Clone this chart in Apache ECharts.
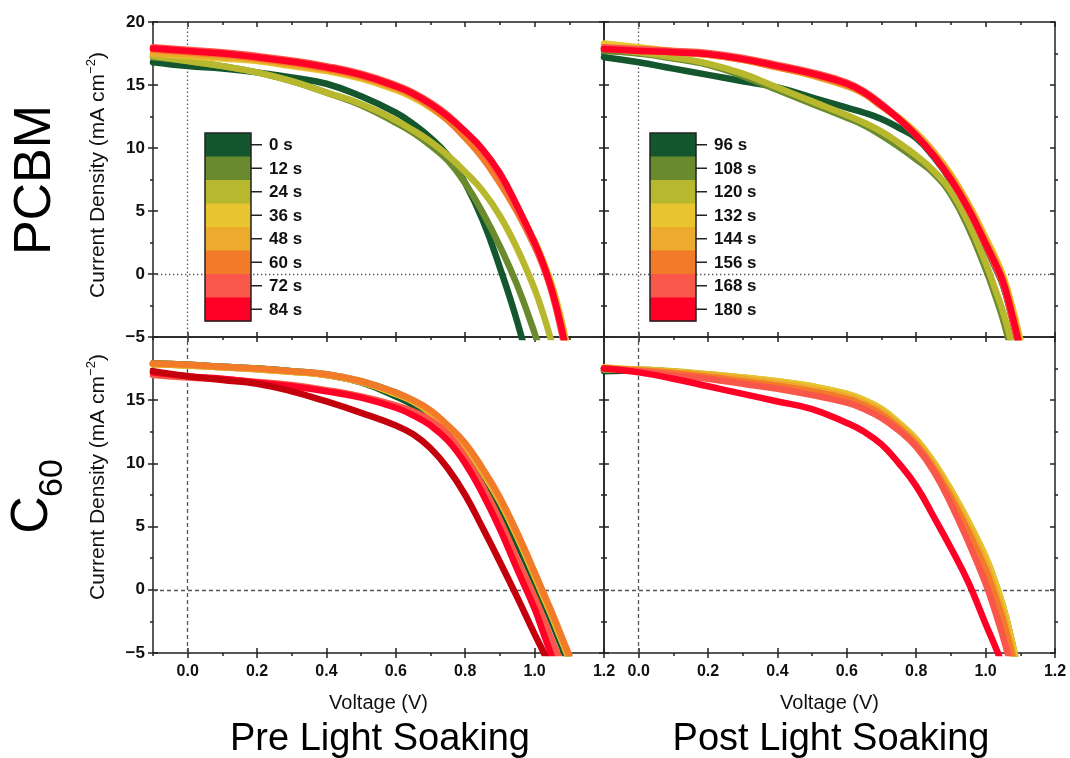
<!DOCTYPE html>
<html>
<head>
<meta charset="utf-8">
<script src="https://cdn.jsdelivr.net/npm/echarts@6/dist/echarts.min.js"></script>
<style>
  html, body { margin: 0; padding: 0; background: #fff; }
  #chart { width: 1070px; height: 758px; }
</style>
</head>
<body>
<div id="chart"></div>
<script>
// J–V sweeps of the PCBM and C60 devices, before and after light soaking.
const voltage = [-0.1, 0, 0.1, 0.2, 0.3, 0.4, 0.5, 0.6, 0.65, 0.7, 0.75, 0.8, 0.85, 0.9, 0.95, 1.0, 1.025, 1.05, 1.075, 1.1];

const preTimes = ['0 s', '12 s', '24 s', '36 s', '48 s', '60 s', '72 s', '84 s'];
const postTimes = ['96 s', '108 s', '120 s', '132 s', '144 s', '156 s', '168 s', '180 s'];
const timeColors = ['#14562e', '#6a8a2e', '#b7b82e', '#e8c52e', '#ecab2d', '#f27b2a', '#fa574b', '#ff0026'];
const extraTraceColor = '#c4000c';

const xMajorTicks = [0, 0.2, 0.4, 0.6, 0.8, 1.0, 1.2];
const xMinorTicks = [-0.1, 0.1, 0.3, 0.5, 0.7, 0.9, 1.1];
const yMinorTicks = [-2.5, 2.5, 7.5, 12.5, 17.5];

// current density (mA cm^-2), one row per sweep, sampled at `voltage`
const pcbmPreCurrent = [
  [16.8, 16.5, 16.3, 16.0, 15.6, 15.1, 14.1, 12.8, 11.9, 10.8, 9.4, 7.2, 4.3, 0.5, -3.8, -9.0, -12.0, -14.5, -17.0, -20.0],
  [17.2, 16.9, 16.5, 16.0, 15.3, 14.4, 13.4, 12.0, 11.2, 10.2, 9.0, 7.2, 4.9, 2.2, -0.9, -4.7, -7.0, -9.0, -11.5, -14.0],
  [17.3, 16.9, 16.5, 16.0, 15.3, 14.4, 13.5, 12.2, 11.4, 10.5, 9.4, 8.1, 6.6, 4.6, 2.0, -1.2, -3.2, -5.5, -8.0, -11.0],
  [17.5, 17.3, 17.1, 16.9, 16.5, 16.1, 15.5, 14.6, 14.0, 13.2, 12.2, 11.0, 9.5, 7.6, 5.2, 2.6, 1.0, -0.9, -3.4, -6.6],
  [17.5, 17.4, 17.2, 17.0, 16.6, 16.2, 15.6, 14.7, 14.1, 13.3, 12.3, 11.0, 9.5, 7.6, 5.2, 2.5, 0.9, -1.0, -3.6, -6.9],
  [17.8, 17.6, 17.4, 17.1, 16.75, 16.3, 15.7, 14.8, 14.2, 13.3, 12.2, 10.8, 9.2, 7.2, 4.9, 2.2, 0.6, -1.3, -3.9, -7.2],
  [18.0, 17.8, 17.6, 17.3, 16.95, 16.5, 15.9, 15.0, 14.4, 13.6, 12.6, 11.3, 9.8, 7.8, 5.2, 2.3, 0.6, -1.5, -4.3, -7.8],
  [17.9, 17.7, 17.5, 17.2, 16.85, 16.4, 15.8, 14.9, 14.3, 13.5, 12.5, 11.3, 9.9, 8.0, 5.4, 2.5, 0.8, -1.3, -4.0, -7.4]
];

const pcbmPostCurrent = [
  [17.2, 16.8, 16.3, 15.8, 15.3, 14.8, 14.0, 13.2, 12.8, 12.3, 11.6, 10.8, 9.3, 7.4, 5.0, 2.2, 0.7, -0.9, -3.4, -6.3],
  [17.7, 17.5, 17.1, 16.6, 15.7, 14.6, 13.5, 12.4, 11.8, 11.0, 10.1, 9.1, 8.0, 6.3, 3.7, 0.4, -1.5, -3.6, -6.2, -9.0],
  [17.9, 17.6, 17.2, 16.7, 15.9, 14.8, 13.7, 12.6, 12.0, 11.3, 10.4, 9.4, 8.2, 6.6, 4.1, 0.9, -1.0, -3.0, -5.5, -8.3],
  [18.3, 18.0, 17.7, 17.45, 17.05, 16.5, 15.85, 15.0, 14.4, 13.4, 12.4, 11.2, 9.7, 7.9, 5.6, 2.9, 1.5, -0.1, -2.4, -5.2],
  [17.9, 17.75, 17.6, 17.4, 17.0, 16.4, 15.75, 14.9, 14.3, 13.4, 12.4, 11.2, 9.7, 7.8, 5.5, 2.7, 1.3, -0.3, -2.7, -5.5],
  [17.9, 17.75, 17.6, 17.4, 17.0, 16.4, 15.8, 15.0, 14.3, 13.3, 12.3, 11.0, 9.5, 7.6, 5.3, 2.5, 1.1, -0.5, -3.0, -5.8],
  [18.0, 17.85, 17.7, 17.55, 17.15, 16.6, 16.0, 15.2, 14.5, 13.5, 12.3, 11.0, 9.4, 7.5, 5.1, 2.3, 0.8, -0.8, -3.4, -6.3],
  [17.85, 17.7, 17.6, 17.45, 17.05, 16.5, 15.9, 15.1, 14.4, 13.4, 12.3, 11.0, 9.4, 7.5, 5.2, 2.4, 1.0, -0.6, -3.1, -6.0]
];

const c60PreCurrent = [
  [17.9, 17.8, 17.65, 17.5, 17.3, 17.0, 16.4, 15.3, 14.6, 13.6, 12.3, 10.6, 8.6, 6.3, 3.6, 0.6, -1.0, -2.6, -4.3, -6.0],
  [17.9, 17.8, 17.65, 17.5, 17.3, 17.05, 16.5, 15.6, 14.9, 14.1, 12.9, 11.4, 9.4, 7.1, 4.3, 1.2, -0.4, -2.0, -3.7, -5.4],
  [17.85, 17.75, 17.6, 17.45, 17.25, 17.0, 16.45, 15.5, 14.9, 14.0, 12.8, 11.3, 9.3, 7.0, 4.2, 1.1, -0.5, -2.1, -3.8, -5.5],
  [17.85, 17.75, 17.6, 17.45, 17.25, 17.0, 16.45, 15.5, 14.9, 14.0, 12.8, 11.3, 9.3, 7.0, 4.2, 1.1, -0.5, -2.1, -3.8, -5.5],
  [17.85, 17.75, 17.6, 17.45, 17.25, 17.0, 16.45, 15.55, 14.9, 14.05, 12.85, 11.35, 9.35, 7.05, 4.25, 1.15, -0.45, -2.05, -3.75, -5.45],
  [17.9, 17.8, 17.65, 17.5, 17.3, 17.05, 16.5, 15.6, 15.0, 14.2, 13.0, 11.6, 9.6, 7.3, 4.5, 1.4, -0.2, -1.8, -3.5, -5.2],
  [17.0, 16.8, 16.65, 16.45, 16.2, 15.8, 15.3, 14.6, 14.1, 13.4, 12.3, 10.5, 8.2, 5.5, 2.4, -0.6, -2.3, -4.0, -5.7, -7.5],
  [17.2, 16.9, 16.7, 16.4, 16.1, 15.7, 15.2, 14.4, 13.8, 13.0, 11.8, 10.0, 7.6, 4.8, 1.6, -1.5, -3.4, -5.3, -7.1, -9.0],
  [17.3, 16.9, 16.6, 16.3, 15.7, 14.9, 14.0, 13.0, 12.3, 11.2, 9.6, 7.5, 4.9, 2.2, -0.6, -3.5, -4.9, -6.4, -7.8, -9.3]
];

const c60PostCurrent = [
  [17.3, 17.35, 17.2, 16.95, 16.7, 16.4, 16.0, 15.4, 14.9, 14.2, 13.1, 11.8, 10.0, 7.8, 5.3, 2.5, 0.7, -1.4, -4.1, -7.3],
  [17.4, 17.4, 17.25, 17.0, 16.75, 16.45, 16.05, 15.45, 14.95, 14.25, 13.15, 11.85, 10.05, 7.85, 5.35, 2.55, 0.75, -1.35, -4.05, -7.25],
  [17.45, 17.4, 17.3, 17.05, 16.8, 16.5, 16.1, 15.5, 15.0, 14.3, 13.2, 11.9, 10.1, 7.9, 5.4, 2.6, 0.8, -1.3, -4.0, -7.2],
  [17.6, 17.4, 17.25, 17.05, 16.8, 16.5, 16.1, 15.5, 15.0, 14.3, 13.2, 11.9, 10.1, 7.9, 5.4, 2.6, 0.8, -1.3, -4.0, -7.2],
  [17.5, 17.4, 17.2, 17.0, 16.7, 16.35, 15.9, 15.3, 14.8, 14.1, 13.0, 11.7, 9.9, 7.6, 5.0, 2.1, 0.2, -1.9, -4.6, -7.6],
  [17.5, 17.35, 17.15, 16.85, 16.5, 16.15, 15.7, 15.1, 14.6, 13.9, 12.8, 11.5, 9.6, 7.3, 4.6, 1.6, -0.3, -2.4, -5.0, -7.8],
  [17.5, 17.3, 17.0, 16.7, 16.3, 15.9, 15.4, 14.8, 14.3, 13.6, 12.6, 11.3, 9.4, 6.8, 3.8, 0.5, -1.5, -3.7, -6.2, -8.8],
  [17.5, 17.2, 16.7, 16.1, 15.5, 14.9, 14.3, 13.2, 12.5, 11.5, 10.0, 8.2, 5.8, 3.3, 0.6, -2.7, -4.3, -6.0, -7.7, -9.5]
];

const FONT = '"Liberation Sans", Arial, Helvetica, sans-serif';
const INK = '#222';

const panels = [
  { box: { left: 153, top: 22, width: 451, height: 315 }, rows: pcbmPreCurrent, names: preTimes, colors: timeColors, guide: [1.4, 2.6], xLabels: false, yLabels: true, top20: true },
  { box: { left: 604, top: 22, width: 451, height: 315 }, rows: pcbmPostCurrent, names: postTimes, colors: timeColors, guide: [1.4, 2.6], xLabels: false, yLabels: false, top20: true },
  { box: { left: 153, top: 337, width: 451, height: 316 }, rows: c60PreCurrent, names: preTimes.concat(['extra']), colors: timeColors.concat([extraTraceColor]), guide: [4, 3], xLabels: true, yLabels: true, top20: false },
  { box: { left: 604, top: 337, width: 451, height: 316 }, rows: c60PostCurrent, names: postTimes, colors: timeColors, guide: [4, 3], xLabels: true, yLabels: false, top20: false }
];

const grids = [], xAxes = [], yAxes = [], series = [];
const tickLine = { color: INK, width: 1.5 };

function addAxis(list, base, spec) {
  list.push(Object.assign({}, base, spec));
  return list.length - 1;
}

panels.forEach((p, g) => {
  grids.push(Object.assign({ containLabel: false }, p.box));
  const xBase = { gridIndex: g, type: 'value', min: -0.1, max: 1.2, splitLine: { show: false },
    axisLine: { show: false, onZero: false }, axisTick: { show: false }, axisLabel: { show: false } };
  const yBase = { gridIndex: g, type: 'value', min: -5, max: 20, interval: 5, splitLine: { show: false },
    axisLine: { show: false, onZero: false }, axisTick: { show: false }, axisLabel: { show: false } };

  const xMain = addAxis(xAxes, xBase, {
    position: 'bottom',
    axisLine: { show: true, onZero: false, lineStyle: { color: INK, width: 1.5 } },
    axisTick: { show: true, customValues: xMajorTicks, length: 5, lineStyle: tickLine },
    axisLabel: { show: p.xLabels, customValues: xMajorTicks, margin: 11, color: '#111',
      fontFamily: FONT, fontWeight: 'bold', fontSize: 16, formatter: v => v.toFixed(1) },
    name: p.xLabels ? 'Voltage (V)' : '', nameLocation: 'middle', nameGap: 40,
    nameTextStyle: { fontFamily: FONT, fontSize: 20, color: '#111' }
  });
  addAxis(xAxes, xBase, { position: 'bottom', axisTick: { show: true, inside: true, customValues: xMajorTicks, length: 5, lineStyle: tickLine } });
  addAxis(xAxes, xBase, { position: 'bottom', axisTick: { show: true, customValues: xMinorTicks, length: 3, lineStyle: tickLine } });
  addAxis(xAxes, xBase, { position: 'top',
    axisLine: { show: true, onZero: false, lineStyle: { color: INK, width: 1.5 } },
    axisTick: { show: true, inside: true, customValues: xMajorTicks, length: 5, lineStyle: tickLine } });
  addAxis(xAxes, xBase, { position: 'top', axisTick: { show: true, inside: true, customValues: xMinorTicks, length: 3, lineStyle: tickLine } });

  const yMain = addAxis(yAxes, yBase, {
    position: 'left',
    axisLine: { show: true, onZero: false, lineStyle: { color: INK, width: 1.5 } },
    axisTick: { show: true, length: 5, lineStyle: tickLine },
    axisLabel: { show: p.yLabels, margin: 8, color: '#111', fontFamily: FONT, fontWeight: 'bold', fontSize: 17,
      formatter: v => (v === 20 && !p.top20) ? '' : (v < 0 ? '\u2212' + Math.abs(v) : String(v)) }
  });
  addAxis(yAxes, yBase, { position: 'left', axisTick: { show: true, inside: true, length: 5, lineStyle: tickLine } });
  addAxis(yAxes, yBase, { position: 'left', axisTick: { show: true, customValues: yMinorTicks, length: 3, lineStyle: tickLine } });
  addAxis(yAxes, yBase, { position: 'right',
    axisLine: { show: true, onZero: false, lineStyle: { color: INK, width: 1.5 } },
    axisTick: { show: true, inside: true, length: 5, lineStyle: tickLine } });
  addAxis(yAxes, yBase, { position: 'right', axisTick: { show: true, customValues: yMinorTicks, length: 3, lineStyle: tickLine } });

  p.rows.forEach((row, k) => {
    const s = {
      type: 'line', name: p.names[k], xAxisIndex: xMain, yAxisIndex: yMain,
      data: voltage.map((v, j) => [v, row[j]]),
      showSymbol: false, smooth: 0.45, clip: true, silent: true, z: 3,
      lineStyle: { width: 6.5, color: p.colors[k], cap: 'round', join: 'round' },
      itemStyle: { color: p.colors[k] }
    };
    if (k === 0) {
      s.markLine = {
        silent: true, symbol: 'none', label: { show: false }, animation: false, z: 1,
        lineStyle: { color: '#555', width: 1.3, type: p.guide },
        data: [{ xAxis: 0 }, { yAxis: 0 }]
      };
    }
    series.push(s);
  });
});

// colour key: one band per sweep time
function colourKey(x, y, labels) {
  const bandH = 23.5, w = 46, els = [];
  labels.forEach((lab, i) => {
    const cy = y + i * bandH + bandH / 2;
    els.push({ type: 'rect', z: 100, shape: { x: x, y: y + i * bandH, width: w, height: bandH + 0.6 }, style: { fill: timeColors[i] } });
    els.push({ type: 'line', z: 101, shape: { x1: x + w, y1: cy, x2: x + w + 11, y2: cy }, style: { stroke: INK, lineWidth: 1.5 } });
    els.push({ type: 'text', z: 101, x: x + w + 18, y: cy + 1,
      style: { text: lab, font: 'bold 17px ' + FONT, fill: '#111', align: 'left', verticalAlign: 'middle', textAlign: 'left', textVerticalAlign: 'middle' } });
  });
  els.push({ type: 'rect', z: 102, shape: { x: x, y: y, width: w, height: bandH * labels.length }, style: { fill: 'none', stroke: INK, lineWidth: 1.5 } });
  return els;
}

function label(text, x, y, size, rotate) {
  return { type: 'text', z: 100, x: x, y: y, rotation: rotate ? Math.PI / 2 : 0,
    style: { text: text, font: size + 'px ' + FONT, fill: '#000', align: 'center', verticalAlign: 'middle', textAlign: 'center', textVerticalAlign: 'middle' } };
}

function yName(x, y) {
  return { type: 'text', z: 100, x: x, y: y, rotation: Math.PI / 2,
    style: { text: '{t|Current Density (mA cm}{s|\u22122}{t|)}', align: 'center', verticalAlign: 'middle',
      textAlign: 'center', textVerticalAlign: 'middle',
      rich: { t: { fontSize: 21, fontFamily: FONT, fill: '#111', lineHeight: 24, verticalAlign: 'bottom' },
              s: { fontSize: 13, fontFamily: FONT, fill: '#111', lineHeight: 14, verticalAlign: 'top' } } } };
}

const graphics = []
  .concat(colourKey(205, 133, preTimes))
  .concat(colourKey(650, 133, postTimes))
  .concat([
    label('PCBM', 36, 180, 52, true),
    label('C', 33, 515, 52, true),
    label('60', 53, 478, 34, true),
    yName(97, 175),
    yName(97, 477),
    label('Pre Light Soaking', 380, 740, 38, false),
    label('Post Light Soaking', 831, 740, 38, false)
  ]);

const chart = echarts.init(document.getElementById('chart'), null, { renderer: 'canvas' });
chart.setOption({
  backgroundColor: '#fff',
  animation: false,
  grid: grids,
  xAxis: xAxes,
  yAxis: yAxes,
  series: series,
  graphic: { elements: graphics }
});
</script>
</body>
</html>
